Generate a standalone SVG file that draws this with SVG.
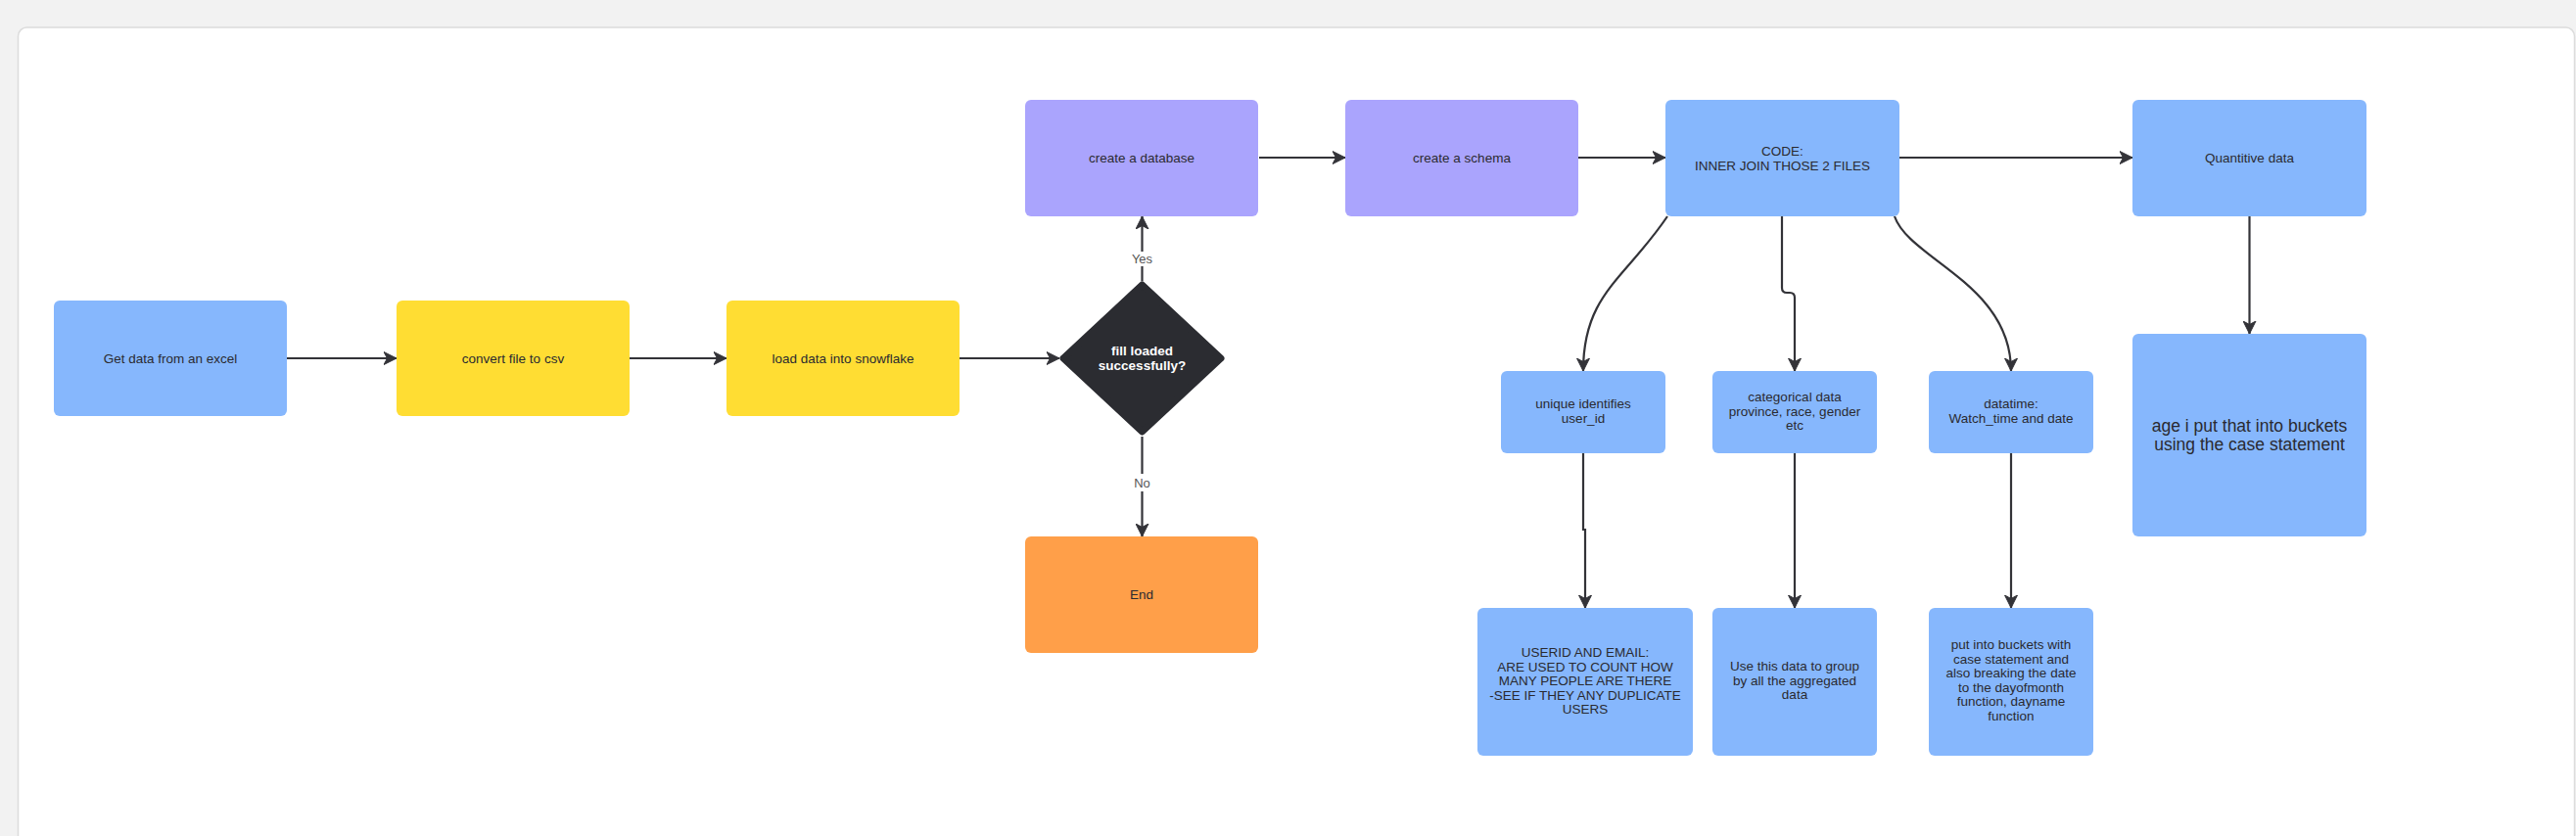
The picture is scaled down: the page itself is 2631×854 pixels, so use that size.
<svg xmlns="http://www.w3.org/2000/svg" width="2631" height="854" viewBox="0 0 2631 854">
<defs>
<style>
.bg{fill:#f2f2f2}
.card{fill:#ffffff;stroke:#dcdcdc;stroke-width:1.5}
.blue{fill:#86b7fd}
.yellow{fill:#ffdd33}
.purple{fill:#aaa4fd}
.orange{fill:#ff9f49}
.dark{fill:#2b2c31;stroke:#2b2c31;stroke-width:7;stroke-linejoin:round}
text{font-family:"Liberation Sans",Arial,sans-serif;font-size:13.5px;fill:#2a2a30;text-anchor:middle}
.big{font-size:17.5px}
.white{fill:#ffffff;font-weight:bold;font-size:13.5px}
.lbl{fill:#555555;font-size:13px}
.edge{fill:none;stroke:#333338;stroke-width:2.2}
</style>
<marker id="arr" markerUnits="userSpaceOnUse" markerWidth="14" markerHeight="14" viewBox="0 0 14 14" refX="13" refY="7" orient="auto">
<path d="M0,0.5 L13,7 L0,13.5 L3.5,7 z" fill="#333338" stroke="#333338" stroke-width="1" stroke-linejoin="round"/>
</marker>
</defs>
<rect class="bg" x="0" y="0" width="2631" height="854"/>
<rect class="card" x="18.5" y="28" width="2611" height="860" rx="9"/>

<g id="connectors">
<path class="edge" d="M293,366 H405" marker-end="url(#arr)"/>
<path class="edge" d="M643,366 H742" marker-end="url(#arr)"/>
<path class="edge" d="M980,366 H1082" marker-end="url(#arr)"/>
<path class="edge" d="M1166.5,287 V272"/>
<path class="edge" d="M1166.5,257 V221" marker-end="url(#arr)"/>
<path class="edge" d="M1166.5,446 V484"/>
<path class="edge" d="M1166.5,502 V548" marker-end="url(#arr)"/>
<path class="edge" d="M1286,161 H1374" marker-end="url(#arr)"/>
<path class="edge" d="M1612,161 H1701" marker-end="url(#arr)"/>
<path class="edge" d="M1940,161 H2178" marker-end="url(#arr)"/>
<path class="edge" d="M2297.5,221 V341" marker-end="url(#arr)"/>
<path class="edge" d="M1703,221 C1660,285 1617,300 1617,379" marker-end="url(#arr)"/>
<path class="edge" d="M1820,221 V294 Q1820,299 1825,299 H1828 Q1833,299 1833,304 V379" marker-end="url(#arr)"/>
<path class="edge" d="M1935,221 C1950,265 2054,290 2054,379" marker-end="url(#arr)"/>
<path class="edge" d="M1617,463 V541 H1619 V621" marker-end="url(#arr)"/>
<path class="edge" d="M1833,463 V621" marker-end="url(#arr)"/>
<path class="edge" d="M2054,463 V621" marker-end="url(#arr)"/>
<text class="lbl" x="1166.5" y="268.5">Yes</text>
<text class="lbl" x="1166.5" y="497.5">No</text>
</g>

<g id="n-excel">
<rect class="blue" x="55" y="307" width="238" height="118" rx="6"/>
<text x="174" y="371">Get data from an excel</text>
</g>
<g id="n-csv">
<rect class="yellow" x="405" y="307" width="238" height="118" rx="6"/>
<text x="524" y="371">convert file to csv</text>
</g>
<g id="n-snowflake">
<rect class="yellow" x="742" y="307" width="238" height="118" rx="6"/>
<text x="861" y="371">load data into snowflake</text>
</g>
<g id="n-decision">
<polygon class="dark" points="1166.5,291 1247,366 1166.5,441 1086,366"/>
<text class="white" x="1166.5" y="363">fill loaded</text>
<text class="white" x="1166.5" y="378">successfully?</text>
</g>
<g id="n-database">
<rect class="purple" x="1047" y="102" width="238" height="119" rx="6"/>
<text x="1166" y="166">create a database</text>
</g>
<g id="n-end">
<rect class="orange" x="1047" y="548" width="238" height="119" rx="6"/>
<text x="1166" y="612">End</text>
</g>
<g id="n-schema">
<rect class="purple" x="1374" y="102" width="238" height="119" rx="6"/>
<text x="1493" y="166">create a schema</text>
</g>
<g id="n-code">
<rect class="blue" x="1701" y="102" width="239" height="119" rx="6"/>
<text x="1820.5" y="159">CODE:</text>
<text x="1820.5" y="173.5">INNER JOIN THOSE 2 FILES</text>
</g>
<g id="n-quantitive">
<rect class="blue" x="2178" y="102" width="239" height="119" rx="6"/>
<text x="2297.5" y="166">Quantitive data</text>
</g>
<g id="n-age">
<rect class="blue" x="2178" y="341" width="239" height="207" rx="6"/>
<text class="big" x="2297.5" y="441">age i put that into buckets</text>
<text class="big" x="2297.5" y="460">using the case statement</text>
</g>
<g id="n-unique">
<rect class="blue" x="1533" y="379" width="168" height="84" rx="6"/>
<text x="1617" y="417">unique identifies</text>
<text x="1617" y="431.5">user_id</text>
</g>
<g id="n-categorical">
<rect class="blue" x="1749" y="379" width="168" height="84" rx="6"/>
<text x="1833" y="410">categorical data</text>
<text x="1833" y="424.5">province, race, gender</text>
<text x="1833" y="439">etc</text>
</g>
<g id="n-datatime">
<rect class="blue" x="1970" y="379" width="168" height="84" rx="6"/>
<text x="2054" y="417">datatime:</text>
<text x="2054" y="431.5">Watch_time and date</text>
</g>
<g id="n-userid">
<rect class="blue" x="1509" y="621" width="220" height="151" rx="6"/>
<text x="1619" y="671">USERID AND EMAIL:</text>
<text x="1619" y="685.5">ARE USED TO COUNT HOW</text>
<text x="1619" y="700">MANY PEOPLE ARE THERE</text>
<text x="1619" y="714.5">-SEE IF THEY ANY DUPLICATE</text>
<text x="1619" y="729">USERS</text>
</g>
<g id="n-group">
<rect class="blue" x="1749" y="621" width="168" height="151" rx="6"/>
<text x="1833" y="685">Use this data to group</text>
<text x="1833" y="699.5">by all the aggregated</text>
<text x="1833" y="714">data</text>
</g>
<g id="n-buckets">
<rect class="blue" x="1970" y="621" width="168" height="151" rx="6"/>
<text x="2054" y="663">put into buckets with</text>
<text x="2054" y="677.5">case statement and</text>
<text x="2054" y="692">also breaking the date</text>
<text x="2054" y="706.5">to the dayofmonth</text>
<text x="2054" y="721">function, dayname</text>
<text x="2054" y="735.5">function</text>
</g>
</svg>
